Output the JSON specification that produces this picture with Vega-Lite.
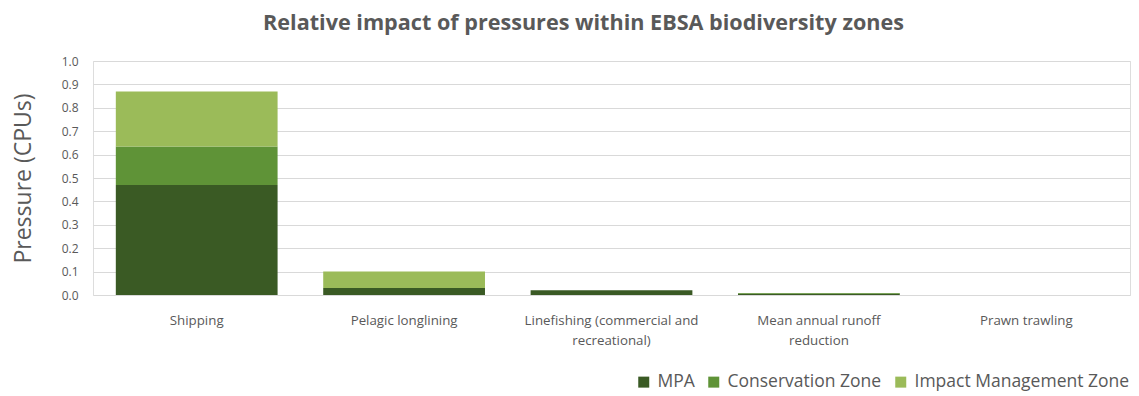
{
  "$schema": "https://vega.github.io/schema/vega-lite/v6.json",
  "width": 1037,
  "height": 234,
  "autosize": "none",
  "padding": {"left": 93, "top": 61, "right": 9, "bottom": 101},
  "background": "white",
  "title": {
    "text": "Relative impact of pressures within EBSA biodiversity zones",
    "font": "Open Sans",
    "fontSize": 21.6,
    "fontWeight": "bold",
    "color": "#595959",
    "anchor": "middle",
    "dx": -28,
    "offset": 20
  },
  "data": {
    "values": [
      {"pressure": "Shipping", "zone": "MPA", "o": 1, "value": 0.47},
      {"pressure": "Shipping", "zone": "Conservation Zone", "o": 2, "value": 0.165},
      {"pressure": "Shipping", "zone": "Impact Management Zone", "o": 3, "value": 0.235},
      {"pressure": "Pelagic longlining", "zone": "MPA", "o": 1, "value": 0.03},
      {"pressure": "Pelagic longlining", "zone": "Conservation Zone", "o": 2, "value": 0.0},
      {"pressure": "Pelagic longlining", "zone": "Impact Management Zone", "o": 3, "value": 0.07},
      {"pressure": "Linefishing (commercial and recreational)", "zone": "MPA", "o": 1, "value": 0.02},
      {"pressure": "Linefishing (commercial and recreational)", "zone": "Conservation Zone", "o": 2, "value": 0.0},
      {"pressure": "Linefishing (commercial and recreational)", "zone": "Impact Management Zone", "o": 3, "value": 0.0},
      {"pressure": "Mean annual runoff reduction", "zone": "MPA", "o": 1, "value": 0.005},
      {"pressure": "Mean annual runoff reduction", "zone": "Conservation Zone", "o": 2, "value": 0.004},
      {"pressure": "Mean annual runoff reduction", "zone": "Impact Management Zone", "o": 3, "value": 0.0},
      {"pressure": "Prawn trawling", "zone": "MPA", "o": 1, "value": 0.0},
      {"pressure": "Prawn trawling", "zone": "Conservation Zone", "o": 2, "value": 0.0},
      {"pressure": "Prawn trawling", "zone": "Impact Management Zone", "o": 3, "value": 0.0}
    ]
  },
  "mark": {"type": "bar"},
  "encoding": {
    "x": {
      "field": "pressure",
      "type": "nominal",
      "sort": null,
      "scale": {"paddingInner": 0.22, "paddingOuter": 0.11},
      "axis": {
        "title": null,
        "labelAngle": 0,
        "labelFont": "Open Sans",
        "labelFontSize": 13.3,
        "labelColor": "#595959",
        "labelPadding": 18,
        "labelLineHeight": 20,
        "labelBaseline": "top",
        "ticks": false,
        "domain": false,
        "labelExpr": "datum.value == 'Linefishing (commercial and recreational)' ? ['Linefishing (commercial and', 'recreational)'] : datum.value == 'Mean annual runoff reduction' ? ['Mean annual runoff', 'reduction'] : datum.value"
      }
    },
    "y": {
      "field": "value",
      "type": "quantitative",
      "stack": "zero",
      "scale": {"domain": [0, 1]},
      "axis": {
        "title": "Pressure (CPUs)",
        "titleFont": "Open Sans",
        "titleFontSize": 23,
        "titleFontWeight": "normal",
        "titleColor": "#595959",
        "titlePadding": 26,
        "values": [0, 0.1, 0.2, 0.3, 0.4, 0.5, 0.6, 0.7, 0.8, 0.9, 1.0],
        "format": ".1f",
        "labelFont": "Open Sans",
        "labelFontSize": 12,
        "labelColor": "#595959",
        "labelPadding": 15,
        "ticks": false,
        "domain": false,
        "grid": true,
        "gridColor": "#d9d9d9"
      }
    },
    "color": {
      "field": "zone",
      "type": "nominal",
      "scale": {
        "domain": ["MPA", "Conservation Zone", "Impact Management Zone"],
        "range": ["#3a5a24", "#5f9337", "#9bbb59"]
      },
      "legend": {
        "title": null,
        "orient": "none",
        "legendX": 542,
        "legendY": 312,
        "direction": "horizontal",
        "symbolType": "square",
        "symbolSize": 121,
        "labelFont": "Open Sans",
        "labelFontSize": 17.5,
        "labelLimit": 400,
        "labelColor": "#595959",
        "columnPadding": 10,
        "symbolOffset": 0,
        "labelOffset": 5
      }
    },
    "order": {"field": "o", "type": "quantitative"}
  }
}
